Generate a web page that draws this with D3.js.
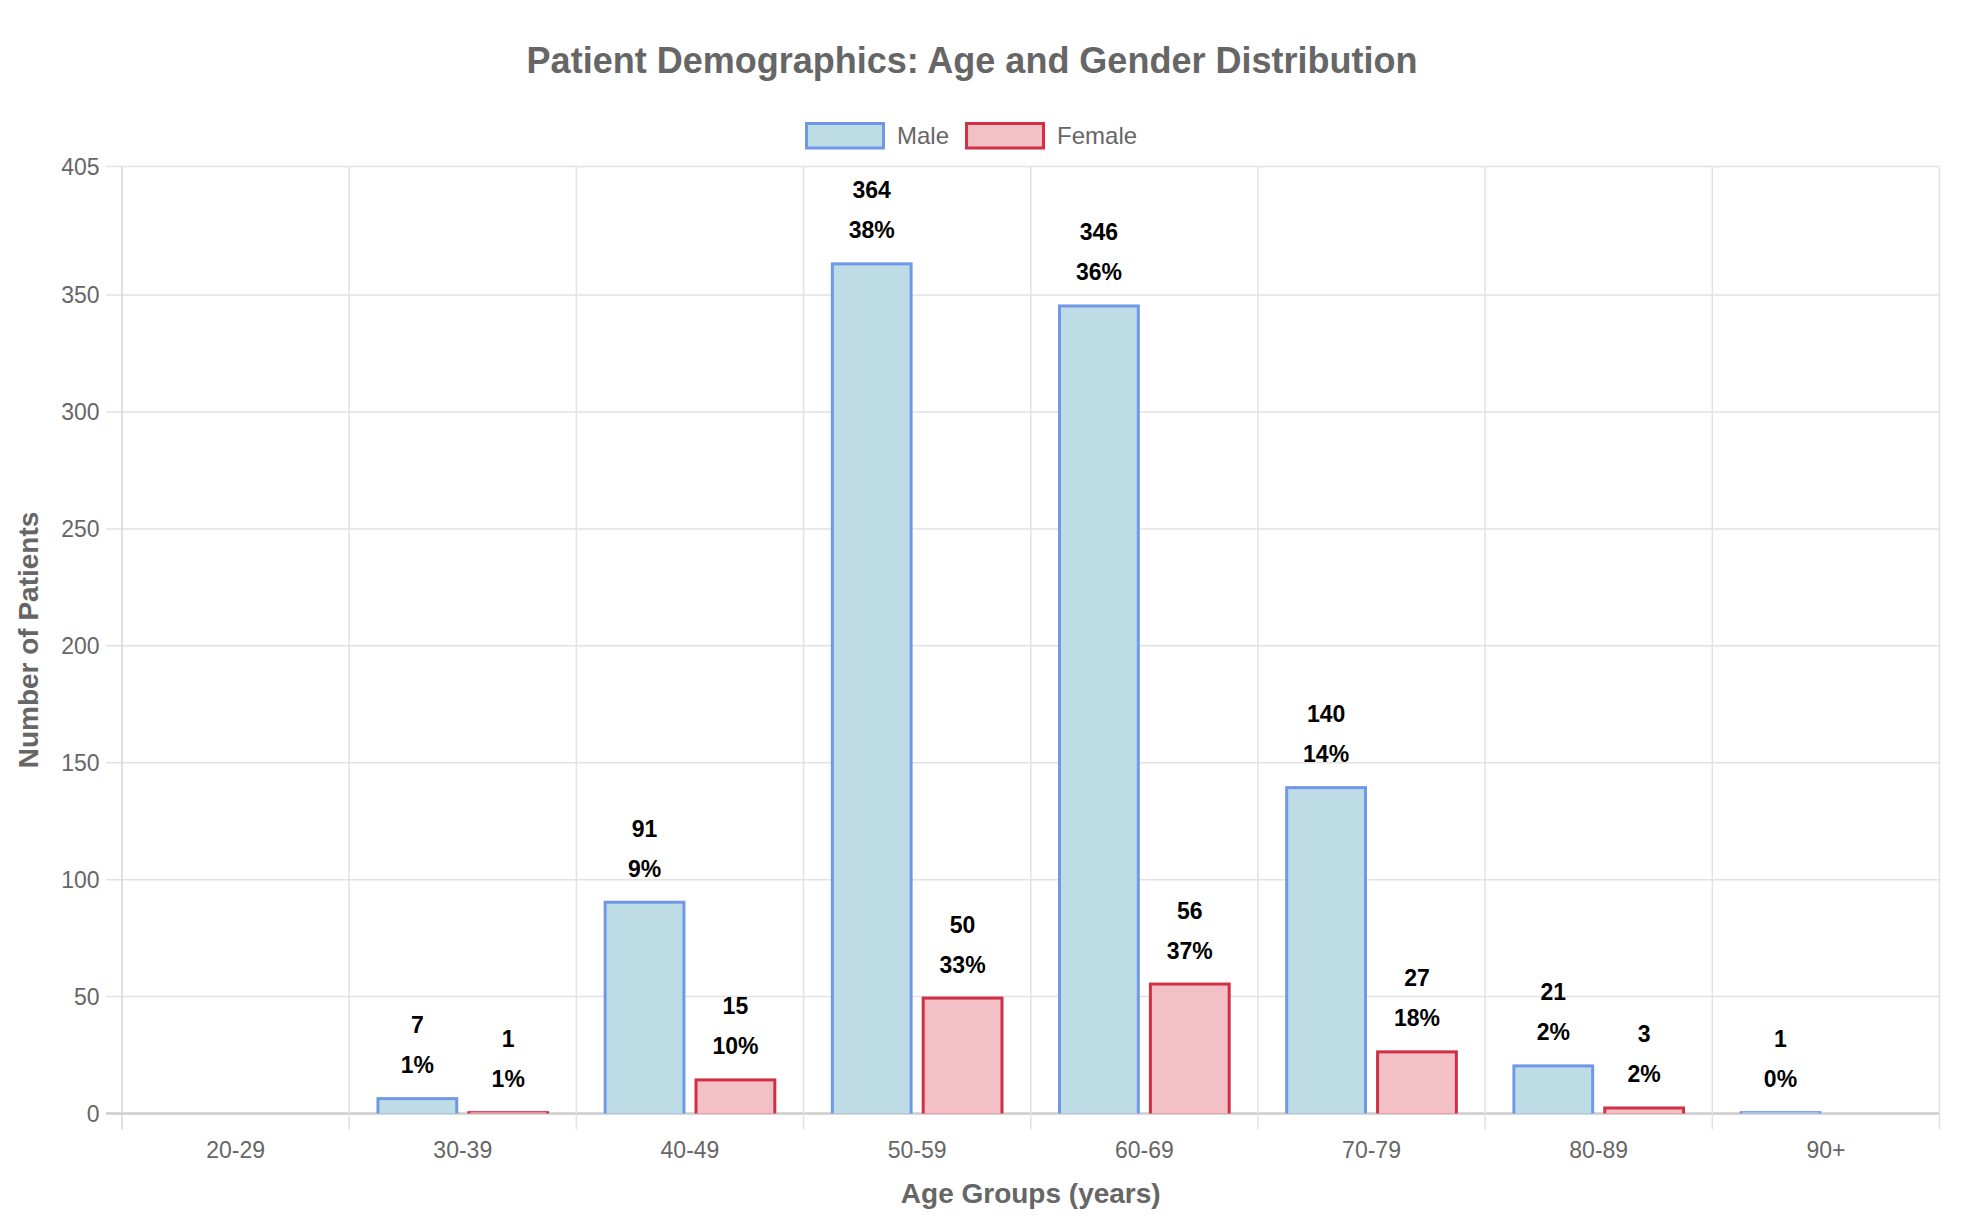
<!DOCTYPE html>
<html>
<head>
<meta charset="utf-8">
<script src="https://cdn.jsdelivr.net/npm/d3@7"></script>
<style>
  body { margin: 0; background: #fff; }
  svg { display: block; font-family: "Liberation Sans", Arial, Helvetica, sans-serif; }
</style>
</head>
<body>
<svg class="chart_svg" width="1968" height="1224"></svg>
<script>
// data
const ageGroups = ["20-29", "30-39", "40-49", "50-59", "60-69", "70-79", "80-89", "90+"]
const maleCounts = [0, 7, 91, 364, 346, 140, 21, 1]
const femaleCounts = [0, 1, 15, 50, 56, 27, 3, 0]
const seriesNames = ["Male", "Female"]
const yTicks = [0, 50, 100, 150, 200, 250, 300, 350, 405]

const colors = {
    Male: { fill: "#bedce6", stroke: "#7097e8" },
    Female: { fill: "#f4c0c8", stroke: "#d12f43" }
}

const svg = d3.select("svg.chart_svg")
const plot = { left: 122, right: 1939.5, top: 166.5, bottom: 1113.5 }
const borderW = 3

const x = d3.scaleBand()
    .domain(ageGroups)
    .range([plot.left, plot.right])
    .padding(0)
const cw = x.bandwidth()
const x1 = d3.scaleBand()
    .domain(seriesNames)
    .range([0.1 * cw, 0.9 * cw])
    .paddingInner(0.1)
    .paddingOuter(0.05)
const y = d3.scaleLinear()
    .domain([0, 405])
    .range([plot.bottom, plot.top])

const series = seriesNames.map(name => {
    const vals = name === "Male" ? maleCounts : femaleCounts
    const total = d3.sum(vals)
    return ageGroups.map((g, i) => ({ name, group: g, value: vals[i], pct: Math.round(vals[i] / total * 100) }))
})

// horizontal grid
svg.append("g")
    .selectAll("line")
    .data(yTicks)
    .join("line")
    .attr("x1", plot.left - 16)
    .attr("x2", plot.right)
    .attr("y1", d => y(d))
    .attr("y2", d => y(d))
    .attr("stroke", d => d === 0 ? "#cccccc" : "#e2e2e2")
    .attr("stroke-width", d => d === 0 ? 2.5 : 1.5)

// vertical grid at category edges
const edges = ageGroups.map(g => x(g)).concat([plot.right])
svg.append("g")
    .selectAll("line")
    .data(edges)
    .join("line")
    .attr("x1", d => d)
    .attr("x2", d => d)
    .attr("y1", plot.top)
    .attr("y2", plot.bottom + 16)
    .attr("stroke", (d, i) => i === 0 ? "#d4d4d4" : "#e2e2e2")
    .attr("stroke-width", 1.5)

// y tick labels
svg.append("g")
    .selectAll("text")
    .data(yTicks)
    .join("text")
    .attr("x", 99.5)
    .attr("y", d => y(d))
    .attr("dy", "0.35em")
    .attr("text-anchor", "end")
    .attr("fill", "#666")
    .attr("font-size", 23)
    .text(d => d)

// x tick labels
svg.append("g")
    .selectAll("text")
    .data(ageGroups)
    .join("text")
    .attr("x", d => x(d) + cw / 2)
    .attr("y", 1158)
    .attr("text-anchor", "middle")
    .attr("fill", "#666")
    .attr("font-size", 23)
    .text(d => d)

// bars: outer rect in border colour, inner rect in fill colour (bottom border skipped)
const bars = svg.append("g")
    .selectAll("g")
    .data(series.flat().filter(d => d.value > 0))
    .join("g")

const bx = d => x(d.group) + x1(d.name)
const bw = x1.bandwidth()

bars.append("rect")
    .attr("x", bx)
    .attr("y", d => y(d.value))
    .attr("width", bw)
    .attr("height", d => y(0) - y(d.value))
    .attr("fill", d => colors[d.name].stroke)

bars.append("rect")
    .attr("x", d => bx(d) + borderW)
    .attr("y", d => y(d.value) + Math.min(borderW, (y(0) - y(d.value)) / 2))
    .attr("width", bw - 2 * borderW)
    .attr("height", d => Math.max(0, (y(0) - y(d.value)) - Math.min(borderW, (y(0) - y(d.value)) / 2)))
    .attr("fill", d => colors[d.name].fill)

// value + percent labels
bars.append("text")
    .attr("x", d => bx(d) + bw / 2)
    .attr("y", d => y(d.value) - 64)
    .attr("text-anchor", "middle")
    .attr("font-size", 23)
    .attr("font-weight", "bold")
    .attr("fill", "#000")
    .text(d => d.value)

bars.append("text")
    .attr("x", d => bx(d) + bw / 2)
    .attr("y", d => y(d.value) - 24)
    .attr("text-anchor", "middle")
    .attr("font-size", 23)
    .attr("font-weight", "bold")
    .attr("fill", "#000")
    .text(d => d.pct + "%")

// title
svg.append("text")
    .attr("x", 972)
    .attr("y", 73)
    .attr("text-anchor", "middle")
    .attr("font-size", 36)
    .attr("font-weight", "bold")
    .attr("fill", "#666")
    .text("Patient Demographics: Age and Gender Distribution")

// legend
const legend = svg.append("g").attr("transform", "translate(805,122)")
let lx = 0
seriesNames.forEach(name => {
    const item = legend.append("g").attr("transform", `translate(${lx},0)`)
    item.append("rect")
        .attr("x", 1.5).attr("y", 1.5)
        .attr("width", 77).attr("height", 24.5)
        .attr("fill", colors[name].fill)
        .attr("stroke", colors[name].stroke)
        .attr("stroke-width", 3)
    const t = item.append("text")
        .attr("x", 92)
        .attr("y", 14)
        .attr("dy", "0.35em")
        .attr("font-size", 24)
        .attr("fill", "#666")
        .text(name)
    lx += 92 + t.node().getComputedTextLength() + 16
})

// axis titles
svg.append("text")
    .attr("x", (plot.left + plot.right) / 2)
    .attr("y", 1203)
    .attr("text-anchor", "middle")
    .attr("font-size", 28)
    .attr("font-weight", "bold")
    .attr("fill", "#666")
    .text("Age Groups (years)")

svg.append("text")
    .attr("transform", `translate(38,${(plot.top + plot.bottom) / 2}) rotate(-90)`)
    .attr("text-anchor", "middle")
    .attr("font-size", 28)
    .attr("font-weight", "bold")
    .attr("fill", "#666")
    .text("Number of Patients")
</script>
</body>
</html>
